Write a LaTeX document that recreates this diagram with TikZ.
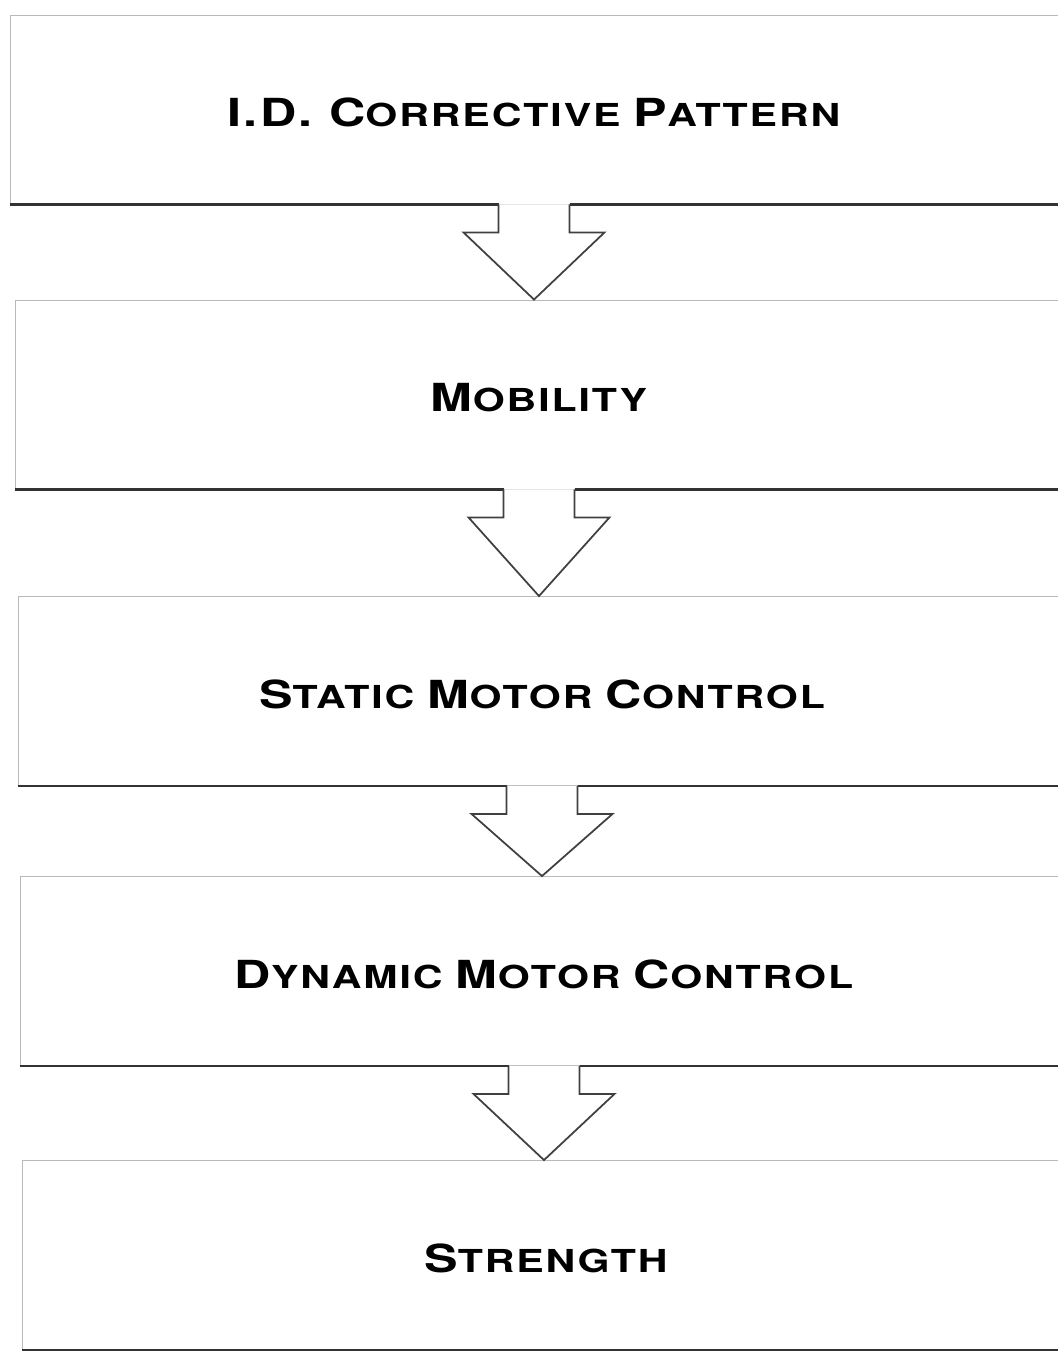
\documentclass[tikz,border=0pt]{standalone}
\usepackage{fontspec}
\setmainfont[FakeStretch=1.3,LetterSpace=6]{TeX Gyre Heros}
\newcommand{\bigletter}[1]{{\fontsize{22}{24}\selectfont #1}}

\begin{document}
\begin{tikzpicture}[
    box/.style={draw=gray!55, line width=0.5pt, minimum width=20.96cm, minimum height=3.78cm, inner sep=0pt, text height=0.7cm, font=\bfseries\fontsize{18}{20}\selectfont},
    base/.style={draw=black!80, line width=1.6pt},
    blockarrow/.style={draw=black!75, line width=1pt, fill=white, line join=miter}]
    \useasboundingbox (0,0) rectangle (21.16,-27.02);

    \node[box] (idcp) at (10.68,-2.19) {\bigletter{I.D. C}ORRECTIVE \bigletter{P}ATTERN};
    \node[box] (mob) at (10.78,-7.89) {\bigletter{M}OBILITY};
    \node[box] (smc) at (10.84,-13.82) {\bigletter{S}TATIC \bigletter{M}OTOR \bigletter{C}ONTROL};
    \node[box] (dmc) at (10.88,-19.42) {\bigletter{D}YNAMIC \bigletter{M}OTOR \bigletter{C}ONTROL};
    \node[box] (str) at (10.92,-25.1) {\bigletter{S}TRENGTH};

%idcp
    \draw[base] (idcp.south west) -- ([xshift=-0.71cm]idcp.south);
    \draw[base] ([xshift=0.71cm]idcp.south) -- (idcp.south east);
    \filldraw[blockarrow] ([xshift=-0.71cm]idcp.south) -- ++(0,-0.56) -- ++(-0.7,0) -- (idcp.south |- mob.north)
        -- ([xshift=1.41cm,yshift=-0.56cm]idcp.south) -- ++(-0.7,0) -- ([xshift=0.71cm]idcp.south);

%mob
    \draw[base] (mob.south west) -- ([xshift=-0.71cm]mob.south);
    \draw[base] ([xshift=0.71cm]mob.south) -- (mob.south east);
    \filldraw[blockarrow] ([xshift=-0.71cm]mob.south) -- ++(0,-0.56) -- ++(-0.7,0) -- (mob.south |- smc.north)
        -- ([xshift=1.41cm,yshift=-0.56cm]mob.south) -- ++(-0.7,0) -- ([xshift=0.71cm]mob.south);

%smc
    \draw[base] (smc.south west) -- ([xshift=-0.71cm]smc.south);
    \draw[base] ([xshift=0.71cm]smc.south) -- (smc.south east);
    \filldraw[blockarrow] ([xshift=-0.71cm]smc.south) -- ++(0,-0.56) -- ++(-0.7,0) -- (smc.south |- dmc.north)
        -- ([xshift=1.41cm,yshift=-0.56cm]smc.south) -- ++(-0.7,0) -- ([xshift=0.71cm]smc.south);

%dmc
    \draw[base] (dmc.south west) -- ([xshift=-0.71cm]dmc.south);
    \draw[base] ([xshift=0.71cm]dmc.south) -- (dmc.south east);
    \filldraw[blockarrow] ([xshift=-0.71cm]dmc.south) -- ++(0,-0.56) -- ++(-0.7,0) -- (dmc.south |- str.north)
        -- ([xshift=1.41cm,yshift=-0.56cm]dmc.south) -- ++(-0.7,0) -- ([xshift=0.71cm]dmc.south);

%str
    \draw[base] (str.south west) -- (str.south east);

\end{tikzpicture}
\end{document}
